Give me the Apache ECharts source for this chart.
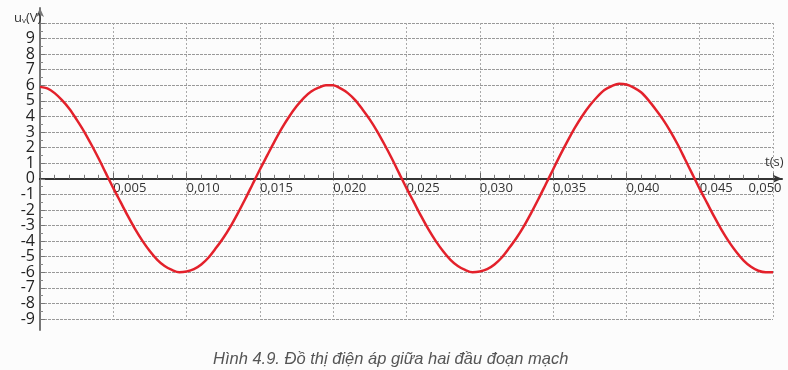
<!DOCTYPE html>
<html>
<head>
<meta charset="utf-8">
<script src="https://cdn.jsdelivr.net/npm/echarts@6/dist/echarts.min.js"></script>
<style>
html,body{margin:0;padding:0;background:#fcfcfc;}
#c{width:788px;height:370px;}
</style>
</head>
<body>
<div id="c"></div>
<script>
// Time values (s), every 0.0005 s
var times = [0,0.0005,0.001,0.0015,0.002,0.0025,0.003,0.0035,0.004,0.0045,
  0.005,0.0055,0.006,0.0065,0.007,0.0075,0.008,0.0085,0.009,0.0095,
  0.010,0.0105,0.011,0.0115,0.012,0.0125,0.013,0.0135,0.014,0.0145,
  0.015,0.0155,0.016,0.0165,0.017,0.0175,0.018,0.0185,0.019,0.0195,
  0.020,0.0205,0.021,0.0215,0.022,0.0225,0.023,0.0235,0.024,0.0245,
  0.025,0.0255,0.026,0.0265,0.027,0.0275,0.028,0.0285,0.029,0.0295,
  0.030,0.0305,0.031,0.0315,0.032,0.0325,0.033,0.0335,0.034,0.0345,
  0.035,0.0355,0.036,0.0365,0.037,0.0375,0.038,0.0385,0.039,0.0395,
  0.040,0.0405,0.041,0.0415,0.042,0.0425,0.043,0.0435,0.044,0.0445,
  0.045,0.0455,0.046,0.0465,0.047,0.0475,0.048,0.0485,0.049,0.0495,0.050];
// Voltage values (V)
var voltages = [5.9,5.8,5.5,5.05,4.5,3.8,3.05,2.2,1.3,0.35,
  -0.6,-1.5,-2.4,-3.25,-4.0,-4.65,-5.2,-5.6,-5.85,-6.0,
  -5.95,-5.8,-5.5,-5.05,-4.45,-3.8,-3.05,-2.2,-1.3,-0.35,
  0.6,1.5,2.4,3.25,4.0,4.65,5.2,5.6,5.85,6.0,
  6.0,5.8,5.5,5.05,4.45,3.8,3.05,2.2,1.3,0.35,
  -0.6,-1.5,-2.4,-3.25,-4.0,-4.65,-5.2,-5.6,-5.85,-6.0,
  -5.95,-5.8,-5.5,-5.05,-4.45,-3.8,-3.05,-2.2,-1.3,-0.35,
  0.6,1.55,2.45,3.3,4.05,4.7,5.25,5.7,5.95,6.1,
  6.05,5.85,5.55,5.05,4.45,3.8,3.05,2.2,1.25,0.3,
  -0.65,-1.55,-2.45,-3.3,-4.05,-4.7,-5.25,-5.65,-5.9,-6.0,-6.0];
var yTickLabels = ['-9','-8','-7','-6','-5','-4','-3','-2','-1','0','1','2','3','4','5','6','7','8','9'];
var xTickLabels = ['0,005','0,010','0,015','0,020','0,025','0,030','0,035','0,040','0,045','0,050'];
var yTitle = 'u';
var yTitleSub = 'v';
var yTitleUnit = '(V)';
var xTitle = 't(s)';
var caption = 'Hình 4.9. Đồ thị điện áp giữa hai đầu đoạn mạch';

var pts = times.map(function(t,i){return [t, voltages[i]];});
var axisFont = '"Open Sans", "DejaVu Sans", sans-serif';
var yLabelStyle = {fontSize:16, color:'#222', fontFamily:axisFont};

var chart = echarts.init(document.getElementById('c'), null, {renderer:'canvas'});
chart.setOption({
  animation:false,
  backgroundColor:'#fcfcfc',
  title:[
    {text:'{a|'+yTitle+'}{b|'+yTitleSub+'}{a|'+yTitleUnit+'}', left:9, top:6,
     textStyle:{fontWeight:'normal', rich:{a:{fontSize:13,fontWeight:'normal',color:'#333',fontFamily:axisFont},
                      b:{fontSize:8,fontWeight:'normal',color:'#333',fontFamily:axisFont,padding:[6,0,0,0]}}}},
    {text:xTitle, left:760, top:151, textStyle:{fontSize:13,fontWeight:'normal',color:'#333',fontFamily:axisFont}},
    {text:caption, left:208, top:346, textStyle:{fontSize:16.5,fontWeight:'normal',fontStyle:'italic',color:'#555',fontFamily:'"Liberation Sans", Arial, sans-serif'}}
  ],
  grid:[
    {left:40, right:15, top:23, bottom:51, containLabel:false},
    {left:40, right:6, top:8, bottom:40, containLabel:false}
  ],
  xAxis:[
    {type:'value', gridIndex:0, min:0, max:0.05, interval:0.005, position:'bottom', offset:-140.2,
     axisLine:{show:true, onZero:false, lineStyle:{color:'#333', width:2}},
     axisTick:{show:true, inside:true, length:6, lineStyle:{color:'#666'}},
     minorTick:{show:true, splitNumber:5, length:4, lineStyle:{color:'#777'}},
     splitLine:{show:true, lineStyle:{color:'#aaa', type:[2,2], width:1}},
     axisLabel:{show:true, margin:3, align:'left', alignMaxLabel:'center', hideOverlap:false, fontSize:13, color:'#333', fontFamily:axisFont,
       formatter:function(v){
         var idx = Math.round(v/0.005) - 1;
         if (idx < 0) return '';
         if (idx === xTickLabels.length - 1) return '{m|'+xTickLabels[idx]+'}';
         return xTickLabels[idx] || '';
       },
       rich:{m:{fontSize:13,color:'#333',fontFamily:axisFont,padding:[0,16,0,0]}}
     }},
    {type:'value', gridIndex:1, min:0, max:1,
     axisLine:{show:true, onZero:true, symbol:['none','arrow'], symbolSize:[6,9], lineStyle:{color:'#333', width:2}},
     axisTick:{show:false}, axisLabel:{show:false}, splitLine:{show:false}}
  ],
  yAxis:[
    {type:'value', gridIndex:0, min:-9, max:10, interval:1,
     axisLine:{show:true, onZero:false, lineStyle:{color:'#777', width:2}},
     axisTick:{show:true, inside:true, length:5, lineStyle:{color:'#777'}},
     minorTick:{show:true, splitNumber:2, length:3, lineStyle:{color:'#888'}},
     splitLine:{show:true, lineStyle:{color:'#999', type:[3,1], width:1}},
     axisLabel:Object.assign({show:true, margin:5, hideOverlap:false, showMinLabel:false, showMaxLabel:false,
       formatter:function(v){
         var i = Math.round(v) + 9;
         return yTickLabels[i] || '';
       }}, yLabelStyle)},
    {type:'value', gridIndex:1, min:-9.70, max:10.96,
     axisLine:{show:true, onZero:false, symbol:['none','arrow'], symbolSize:[6,9], lineStyle:{color:'#777', width:2}},
     axisTick:{show:false}, axisLabel:{show:false}, splitLine:{show:false}},
    {type:'value', gridIndex:0, min:-9, max:10, interval:19, position:'left',
     axisLine:{show:false, onZero:false}, axisTick:{show:false}, splitLine:{show:false},
     axisLabel:Object.assign({show:true, margin:5, showMinLabel:true, showMaxLabel:false,
       formatter:function(v){ return Math.round(v) === -9 ? yTickLabels[0] : ''; }}, yLabelStyle)}
  ],
  series:[
    {type:'line', xAxisIndex:0, yAxisIndex:0, data:pts, smooth:0.3, showSymbol:false,
     lineStyle:{color:'#e3212b', width:2.5}, z:5}
  ]
});
</script>
</body>
</html>
